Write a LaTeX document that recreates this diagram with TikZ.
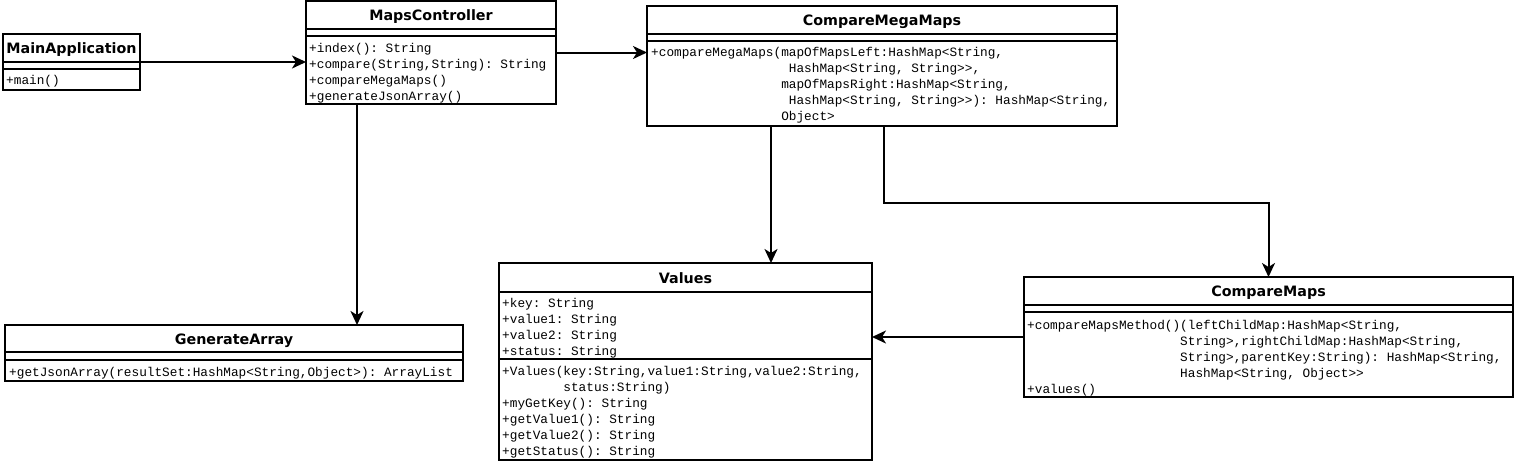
\documentclass[tikz,border=0pt]{standalone}
\usepackage{fontspec}
\setmainfont{DejaVu Sans}
\setmonofont{Liberation Mono}
\usetikzlibrary{arrows.meta}

\tikzset{
  classbox/.style={draw, line width=2pt, anchor=north west, inner sep=0pt, outer sep=0pt},
  classtitle/.style={anchor=base, inner sep=0pt, font=\fontsize{14.3}{16}\selectfont\bfseries},
  members/.style={anchor=north west, inner sep=0pt, align=left,
    font=\fontsize{12.75}{16}\selectfont\ttfamily\frenchspacing},
  divider/.style={line width=2pt},
  assoc/.style={line width=2pt, -{Stealth[length=14pt,width=13pt,inset=4pt]}}
}

\begin{document}
\begin{tikzpicture}[x=1pt,y=-1pt]
        \useasboundingbox (0,0) rectangle (1515,463);

        % MainApplication class
        \node[classbox, minimum width=137pt, minimum height=56pt] (mainapp) at (3,34) {};
        \node[classtitle] (mainapp-title) at (71.5,53) {MainApplication};
        \draw[divider] (mainapp.west |- 0,62) -- (mainapp.east |- 0,62);
        \draw[divider] (mainapp.west |- 0,69) -- (mainapp.east |- 0,69);
        \node[members] (mainapp-ops) at (6,72.8) {\strut+main()};

        % MapsController class
        \node[classbox, minimum width=250pt, minimum height=103pt] (mapsctrl) at (306,1) {};
        \node[classtitle] (mapsctrl-title) at (431,20) {MapsController};
        \draw[divider] (mapsctrl.west |- 0,29) -- (mapsctrl.east |- 0,29);
        \draw[divider] (mapsctrl.west |- 0,36) -- (mapsctrl.east |- 0,36);
        \node[members] (mapsctrl-ops) at (309,40.8) {\strut+index(): String\\
          +compare(String,String): String\\
          +compareMegaMaps()\\
          +generateJsonArray()};

        % CompareMegaMaps class
        \node[classbox, minimum width=470pt, minimum height=120pt] (megamaps) at (647,6) {};
        \node[classtitle] (megamaps-title) at (882,25.5) {CompareMegaMaps};
        \draw[divider] (megamaps.west |- 0,34) -- (megamaps.east |- 0,34);
        \draw[divider] (megamaps.west |- 0,41) -- (megamaps.east |- 0,41);
        \node[members] (megamaps-ops) at (651,44.8) {\strut+compareMegaMaps(mapOfMapsLeft:HashMap<String,\\
          \phantom{+compareMegaMaps(x}HashMap<String, String>>,\\
          \phantom{+compareMegaMaps(}mapOfMapsRight:HashMap<String,\\
          \phantom{+compareMegaMaps(x}HashMap<String, String>>): HashMap<String,\\
          \phantom{+compareMegaMaps(}Object>};

        % Values class
        \node[classbox, minimum width=373pt, minimum height=197pt] (values) at (499,263) {};
        \node[classtitle] (values-title) at (685.5,283) {Values};
        \draw[divider] (values.west |- 0,292) -- (values.east |- 0,292);
        \draw[divider] (values.west |- 0,359) -- (values.east |- 0,359);
        \node[members] (values-attrs) at (502,295.8) {\strut+key: String\\
          +value1: String\\
          +value2: String\\
          +status: String};
        \node[members] (values-ops) at (502,363.8) {\strut+Values(key:String,value1:String,value2:String,\\
          \phantom{+Values(}status:String)\\
          +myGetKey(): String\\
          +getValue1(): String\\
          +getValue2(): String\\
          +getStatus(): String};

        % CompareMaps class
        \node[classbox, minimum width=489pt, minimum height=120pt] (cmpmaps) at (1024,277) {};
        \node[classtitle] (cmpmaps-title) at (1268.5,296.5) {CompareMaps};
        \draw[divider] (cmpmaps.west |- 0,305) -- (cmpmaps.east |- 0,305);
        \draw[divider] (cmpmaps.west |- 0,312) -- (cmpmaps.east |- 0,312);
        \node[members] (cmpmaps-ops) at (1027,317.8) {\strut+compareMapsMethod()(leftChildMap:HashMap<String,\\
          \phantom{+compareMapsMethod()}String>,rightChildMap:HashMap<String,\\
          \phantom{+compareMapsMethod()}String>,parentKey:String): HashMap<String,\\
          \phantom{+compareMapsMethod()}HashMap<String, Object>>\\
          +values()};

        % GenerateArray class
        \node[classbox, minimum width=458pt, minimum height=56pt] (genarr) at (5,325) {};
        \node[classtitle] (genarr-title) at (234,344.5) {GenerateArray};
        \draw[divider] (genarr.west |- 0,352) -- (genarr.east |- 0,352);
        \draw[divider] (genarr.west |- 0,360) -- (genarr.east |- 0,360);
        \node[members] (genarr-ops) at (9,364.8) {\strut+getJsonArray(resultSet:HashMap<String,Object>): ArrayList};

        % associations
        \draw[assoc] (mainapp.east) -- (mainapp.east -| mapsctrl.west);
        \draw[assoc] (mapsctrl.east) -- (mapsctrl.east -| megamaps.west);
        \draw[assoc] ([xshift=51pt]mapsctrl.south west) -- ([xshift=51pt]mapsctrl.south west |- genarr.north);
        \draw[assoc] ([xshift=-111pt]megamaps.south) -- ([xshift=-111pt]megamaps.south |- values.north);
        \draw[assoc] ([xshift=2pt]megamaps.south) -- ++(0,77) -| (cmpmaps.north);
        \draw[assoc] (cmpmaps.west) -- (cmpmaps.west -| values.east);
    \end{tikzpicture}
\end{document}
